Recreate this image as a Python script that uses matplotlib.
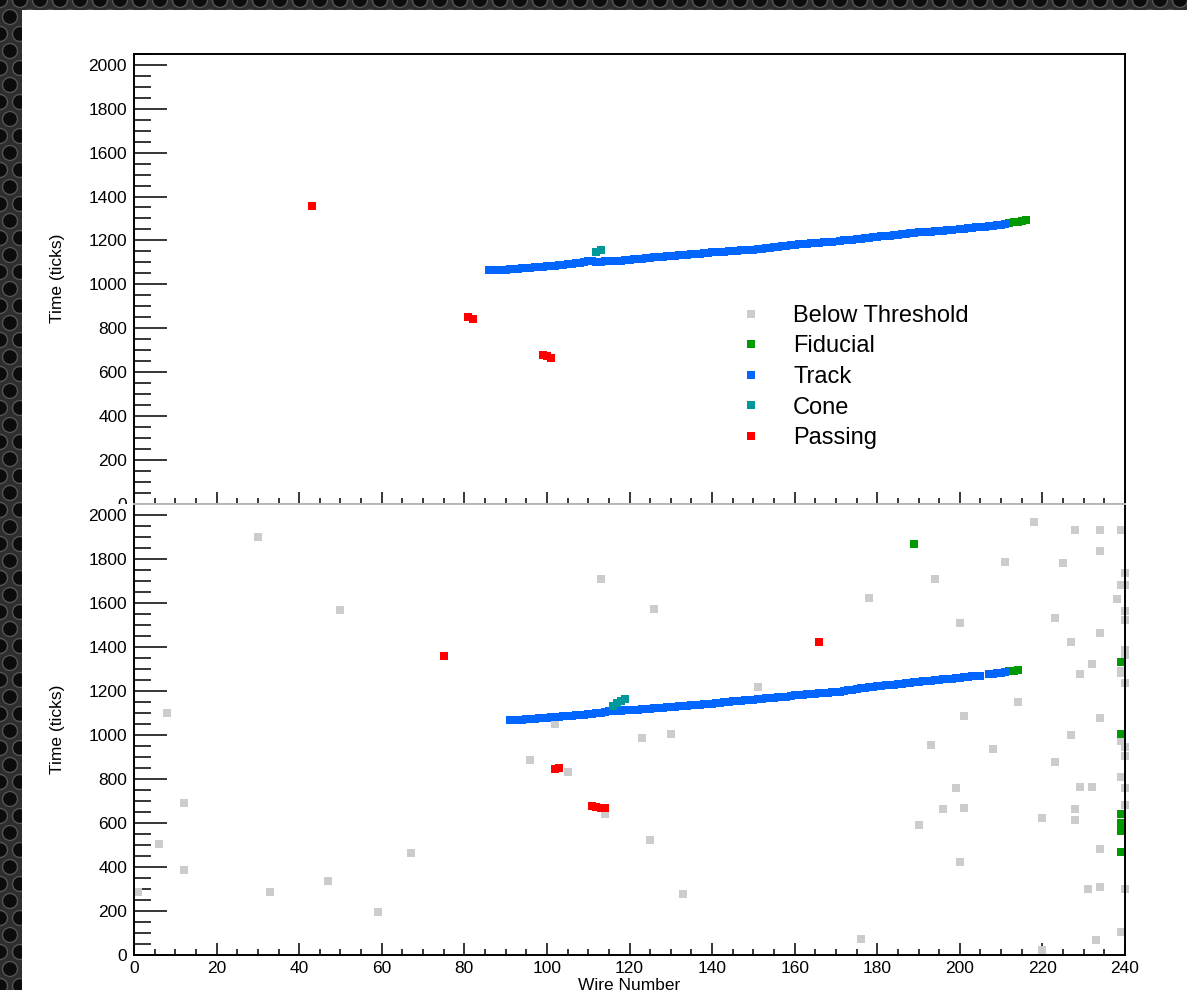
"""Wire-vs-time hit display for one event: raw hits (bottom) and selected hits (top)."""

import numpy as np
import matplotlib
matplotlib.use('Agg')
import matplotlib.pyplot as plt
from matplotlib.patches import Rectangle, Circle
from matplotlib.collections import PatchCollection
from matplotlib.transforms import IdentityTransform
from matplotlib.ticker import MultipleLocator

plt.rcParams['font.family'] = ['Liberation Sans', 'DejaVu Sans']

# ---- top panel: hits after selection ----
top_track_wire = [*range(86, 170), *range(171, 199), *range(200, 212)]
top_track_time = [
    1064, 1065, 1066, 1066, 1067, 1068, 1070, 1071, 1073, 1075,
    1076, 1077, 1078, 1080, 1081, 1083, 1084, 1086, 1088, 1090,
    1093, 1096, 1099, 1102, 1106, 1108,
    1102, 1103, 1104, 1105, 1106, 1107, 1108, 1109,
    1111, 1113, 1115, 1117, 1119, 1121, 1123, 1124, 1126, 1127,
    1129, 1130, 1132, 1134, 1135, 1137, 1138, 1140, 1142, 1143,
    1145, 1146, 1147, 1149, 1150, 1151, 1153, 1154, 1155, 1157,
    1158, 1160, 1162, 1164, 1167, 1169, 1171, 1174, 1176, 1178,
    1181, 1182, 1184, 1185, 1187, 1188, 1190, 1191, 1193, 1194,
    1198, 1200, 1202, 1204, 1206, 1208, 1210, 1212, 1214,
    1216, 1218, 1220, 1222, 1224, 1226, 1228, 1230, 1232, 1234,
    1236, 1237, 1239, 1240, 1242, 1243, 1245, 1246, 1248,
    1251, 1253, 1255, 1257, 1259, 1261, 1263, 1265, 1267, 1269, 1272, 1274,
]
top_fid_wire = [212, 213, 214, 215, 216]
top_fid_time = [1279, 1282, 1285, 1289, 1294]
top_cone_wire = [112, 113]
top_cone_time = [1148, 1158]
top_pass_wire = [43, 81, 82, 99, 100, 101]
top_pass_time = [1358, 850, 843, 678, 672, 665]
top_below_wire = []
top_below_time = []

# ---- bottom panel: all hits ----
bot_track_wire = [*range(91, 206), *range(207, 212)]
bot_track_time = [
    1066, 1067, 1068, 1069, 1070, 1072, 1073, 1075, 1076,
    1078, 1079, 1081, 1082, 1084, 1085, 1087, 1088, 1090, 1091,
    1093, 1095, 1098, 1101, 1104, 1107, 1108, 1109, 1110, 1111,
    1111, 1113, 1114, 1116, 1117, 1119, 1120, 1122, 1123, 1125,
    1126, 1128, 1129, 1131, 1132, 1134, 1135, 1137, 1138, 1140,
    1141, 1143, 1145, 1147, 1149, 1151, 1153, 1155, 1157, 1158,
    1160, 1162, 1163, 1165, 1166, 1168, 1170, 1171, 1173, 1176,
    1179, 1180, 1182, 1183, 1185, 1186, 1188, 1189, 1191, 1192,
    1194, 1196, 1199, 1202, 1205, 1208, 1211, 1214, 1216, 1218,
    1220, 1222, 1224, 1226, 1228, 1230, 1232, 1234, 1236, 1238,
    1240, 1242, 1244, 1245, 1247, 1249, 1251, 1252, 1254, 1256,
    1258, 1260, 1263, 1265, 1267, 1269,
    1275, 1277, 1280, 1282, 1285,
]
bot_fid_wire = [212, 213, 214, 189, 239, 239, 239, 239, 239, 239]
bot_fid_time = [1288, 1290, 1292, 1865, 1330, 1005, 638, 600, 561, 466]
bot_cone_wire = [116, 117, 118, 119]
bot_cone_time = [1130, 1145, 1155, 1163]
bot_pass_wire = [75, 102, 103, 111, 112, 113, 114, 166]
bot_pass_time = [1356, 843, 849, 675, 670, 668, 668, 1423]
bot_below_wire = [
    30, 50, 8, 12, 6, 12, 1, 67, 47, 33, 59,
    113, 126, 178, 151, 102, 123, 130, 96, 105, 114, 125, 133, 176,
    218, 228, 234, 239, 234, 211, 225, 194, 240, 239, 240, 238, 240, 240,
    223, 200, 234, 227, 240, 240, 232, 239, 239, 229, 240, 214, 201, 234,
    227, 239, 240, 193, 208, 240, 223, 239, 199, 229, 232, 240, 240, 196,
    201, 228, 220, 228, 190, 234, 200, 231, 234, 240, 239, 233, 220,
]
bot_below_time = [
    1897, 1568, 1100, 688, 502, 385, 284, 461, 336, 284, 194,
    1708, 1569, 1622, 1215, 1051, 984, 1004, 886, 833, 642, 523, 275, 74,
    1965, 1930, 1930, 1930, 1835, 1784, 1781, 1705, 1734, 1681, 1681, 1618, 1560, 1519,
    1530, 1507, 1460, 1423, 1386, 1361, 1323, 1290, 1280, 1278, 1237, 1149, 1084, 1076,
    1001, 972, 945, 952, 936, 904, 875, 806, 760, 763, 763, 760, 683, 664,
    667, 664, 624, 615, 590, 481, 420, 301, 310, 301, 104, 68, 23,
]

CATEGORIES = ['Below Threshold', 'Fiducial', 'Track', 'Cone', 'Passing']
COLORS = ['#cccccc', '#009900', '#0066ff', '#009999', '#ff0000']

W, H, DPI = 1187, 990, 100
fig = plt.figure(figsize=(W / DPI, H / DPI), dpi=DPI, facecolor='#2e2e2e')

# perforated-metal border behind the white canvas
holes = []
for j, yc in enumerate(range(0, H + 20, 17)):
    off = 10 if j % 2 else 0
    for xc in range(-off, W + 20, 20):
        holes.append(Circle((xc, H - yc), 7.5))
fig.add_artist(PatchCollection(holes, facecolor='#0c0c0c', edgecolor='#555555',
                               linewidth=1.0, transform=IdentityTransform(), zorder=-3))
fig.add_artist(Rectangle((22, 0), W - 22, H - 10, facecolor='white', edgecolor='none',
                         transform=IdentityTransform(), zorder=-2))


def px_axes(x0, y0, x1, y1):
    """Axes rectangle from pixel corners measured from the top-left."""
    return [x0 / W, 1 - y1 / H, (x1 - x0) / W, (y1 - y0) / H]


ax_top = fig.add_axes(px_axes(134, 54, 1125, 503.5), zorder=0)
# lower pad hides whatever of the top panel spills below it
fig.add_artist(Rectangle((22, 0), 112, H - 503.5, facecolor='white', edgecolor='none',
                         transform=IdentityTransform(), zorder=0.5))
ax_bot = fig.add_axes(px_axes(134, 503.5, 1125, 955), zorder=1)

panels = [
    (ax_top, [(top_below_wire, top_below_time), (top_fid_wire, top_fid_time),
              (top_track_wire, top_track_time), (top_cone_wire, top_cone_time),
              (top_pass_wire, top_pass_time)]),
    (ax_bot, [(bot_below_wire, bot_below_time), (bot_fid_wire, bot_fid_time),
              (bot_track_wire, bot_track_time), (bot_cone_wire, bot_cone_time),
              (bot_pass_wire, bot_pass_time)]),
]

for ax, series in panels:
    for (wires, times), name, color in zip(series, CATEGORIES, COLORS):
        ax.plot(wires, times, 's', color=color, markersize=5.5, markeredgewidth=0,
                label=name, clip_on=False)
    ax.set_xlim(0, 240)
    ax.set_ylim(0, 2050)
    ax.xaxis.set_major_locator(MultipleLocator(20))
    ax.xaxis.set_minor_locator(MultipleLocator(5))
    ax.yaxis.set_major_locator(MultipleLocator(200))
    ax.yaxis.set_minor_locator(MultipleLocator(50))
    ax.tick_params(axis='both', which='both', direction='in', top=False, right=False,
                   width=1.1, labelsize=12.5, colors='black')
    ax.tick_params(axis='y', which='major', length=24, pad=5)
    ax.tick_params(axis='y', which='minor', length=12)
    ax.tick_params(axis='x', which='major', length=8.5, pad=4)
    ax.tick_params(axis='x', which='minor', length=4.3)
    for side in ['left', 'bottom', 'right', 'top']:
        ax.spines[side].set_linewidth(1.4)
    ax.set_ylabel('Time (ticks)', fontsize=12.5)
    ax.yaxis.set_label_coords(-0.07, 0.5)

ax_top.tick_params(axis='x', which='both', labelbottom=False)
ax_bot.spines['top'].set_color('#bbbbbb')
ax_bot.set_xlabel('Wire Number', fontsize=12.5)
ax_bot.xaxis.set_label_coords(0.5, -0.052)

ax_top.legend(loc='upper left', bbox_to_anchor=(739 / W, 1 - 305 / H),
              bbox_transform=fig.transFigure, frameon=False, fontsize=17,
              handlelength=1.0, handletextpad=1.29, labelspacing=0.36,
              borderpad=0, borderaxespad=0, markerscale=1.0)

fig.savefig('out.png', dpi=DPI, facecolor=fig.get_facecolor())
